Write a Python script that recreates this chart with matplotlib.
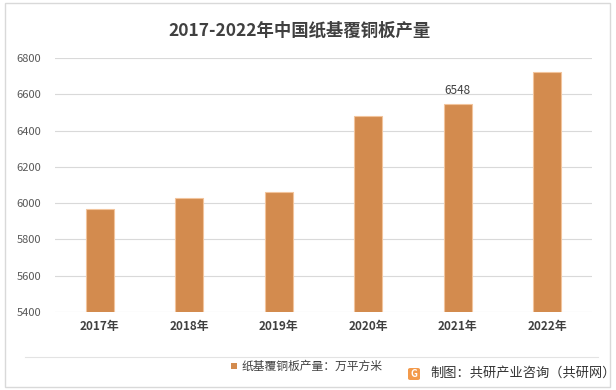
import matplotlib
matplotlib.use("Agg")
import matplotlib.pyplot as plt
from matplotlib.patches import Rectangle, FancyBboxPatch

plt.rcParams['font.family'] = ['Noto Sans CJK SC', 'DejaVu Sans']

years = ['2017年', '2018年', '2019年', '2020年', '2021年', '2022年']
output = [5966, 6027, 6060, 6480, 6548, 6723]
yticks = [5400, 5600, 5800, 6000, 6200, 6400, 6600, 6800]
title = '2017-2022年中国纸基覆铜板产量'
legend_label = '纸基覆铜板产量：万平方米'
source = '制图：共研产业咨询（共研网）'

W, H = 616, 390
fig = plt.figure(figsize=(W / 100, H / 100), dpi=100)

# outer frame
fig.patches.append(Rectangle((5 / W, 3 / H), 605 / W, 384 / H, transform=fig.transFigure,
                             fill=False, edgecolor='#D9D9D9', lw=1))

ax = fig.add_axes([55 / W, (H - 312) / H, 537 / W, 254 / H])
x = range(len(years))
ax.bar(x, output, width=0.31, color='#D38B4E', edgecolor='#F2C49C', linewidth=0.8, zorder=3)
ax.set_ylim(5400, 6800)
ax.set_xlim(-0.5, len(years) - 0.5)
ax.set_yticks(yticks)
ax.set_yticklabels([str(v) for v in yticks], fontsize=8, color='#595959')
ax.set_xticks(list(x))
ax.set_xticklabels(years, fontsize=8.5, color='#404040', fontweight='bold')
ax.tick_params(length=0, pad=6)
ax.tick_params(axis='y', pad=10)
ax.grid(axis='y', color='#D9D9D9', lw=0.8, zorder=0)
for s in ax.spines.values():
    s.set_visible(False)

# data label for 2021
ax.annotate(str(output[4]), (4, output[4]), xytext=(0, 5), textcoords='offset points',
            ha='center', va='bottom', fontsize=8.5, color='#404040')

fig.text(300 / W, 1 - 31 / H, title, ha='center', va='center', fontsize=12.5,
         fontweight='bold', color='#404040')

# separator line above legend
fig.add_artist(plt.Line2D([25 / W, 598 / W], [1 - 357 / H, 1 - 357 / H],
                          transform=fig.transFigure, color='#E3E3E3', lw=0.8))

# legend
fig.patches.append(Rectangle((231 / W, 1 - 369 / H), 6 / W, 6 / H, transform=fig.transFigure,
                             facecolor='#D38B4E', edgecolor='none'))
fig.text(242 / W, 1 - 366 / H, legend_label, ha='left', va='center', fontsize=8.5, color='#404040')

# source with small logo
fig.patches.append(FancyBboxPatch((408 / W, 1 - 380 / H), 12 / W, 12 / H,
                                  boxstyle='round,pad=0,rounding_size=0.004',
                                  transform=fig.transFigure, facecolor='#F39A4B', edgecolor='none'))
fig.text(414 / W, 1 - 374 / H, 'G', ha='center', va='center', fontsize=7, color='white',
         fontweight='bold')
fig.text(430 / W, 1 - 373 / H, source, ha='left', va='center', fontsize=9.5, color='#333333')

fig.savefig('out.png', dpi=100)
